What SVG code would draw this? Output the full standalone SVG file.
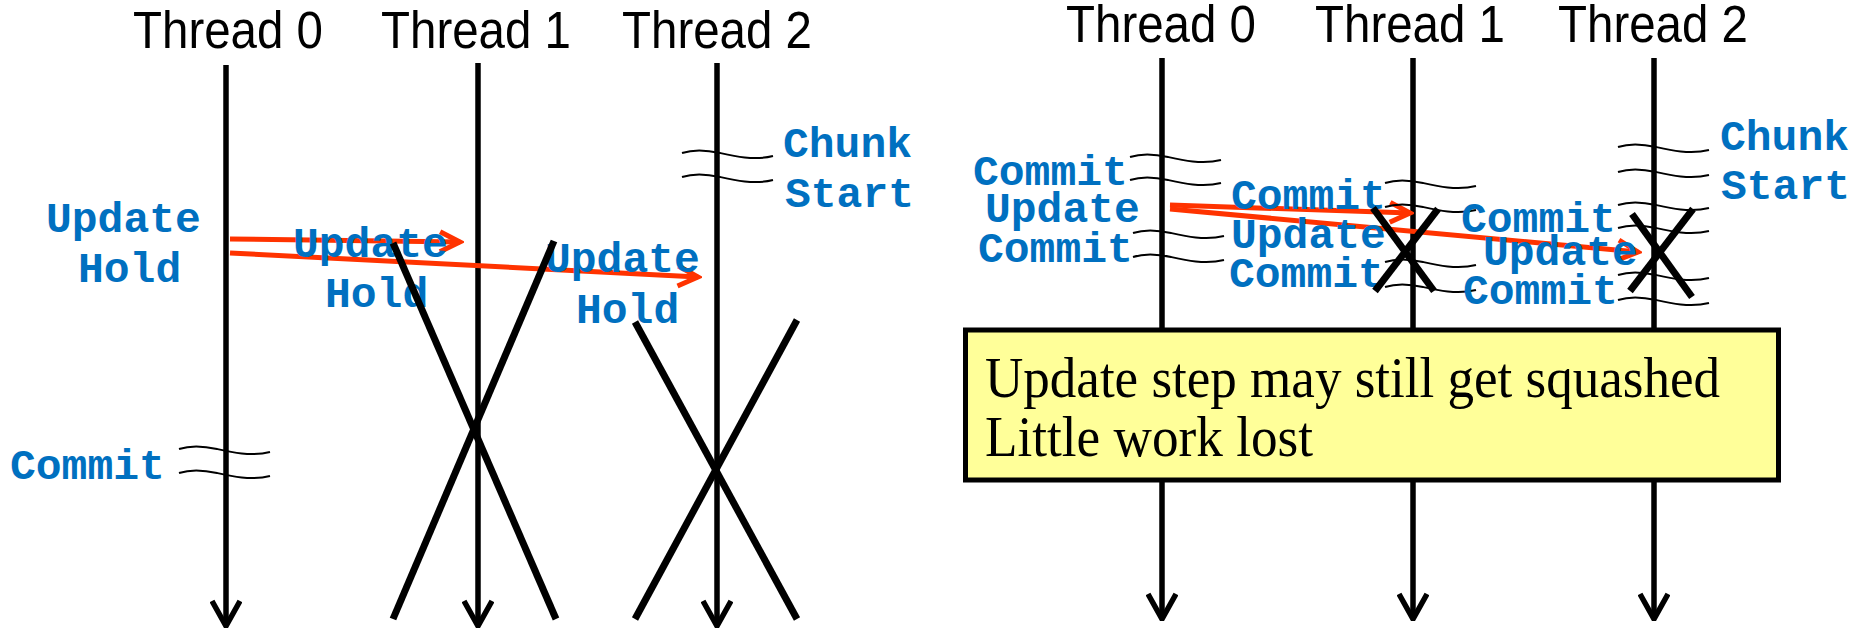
<svg xmlns="http://www.w3.org/2000/svg" width="1868" height="630" viewBox="0 0 1868 630">
  <style>
    .thr{stroke:#000;stroke-width:5.5;fill:none}
    .brk{stroke:#000;stroke-width:2;fill:none}
    .red{stroke:#FF3300;stroke-width:5;fill:none}
    .x{stroke:#000;stroke-width:7;fill:none}
    .title{font-family:"Liberation Sans",Arial,sans-serif;font-size:51px;fill:#000}
    .lbl{font-family:"Liberation Mono","Courier New",monospace;font-weight:bold;font-size:43px;fill:#0070C0}
    .note{font-family:"Liberation Serif","Times New Roman",serif;font-size:57px;fill:#000}
  </style>
  <defs>
    <marker id="down" viewBox="-30 -16 32 32" markerWidth="32" markerHeight="32" refX="0" refY="0" markerUnits="userSpaceOnUse" orient="auto">
      <path d="M-25,-14 L0,0 L-25,14" fill="none" stroke="#000" stroke-width="5.5"/>
    </marker>
    <marker id="redhead" viewBox="-26 -14 30 28" markerWidth="30" markerHeight="28" refX="0" refY="0" markerUnits="userSpaceOnUse" orient="auto">
      <path d="M-20,-10 L0,0 L-20,10" fill="none" stroke="#FF3300" stroke-width="5"/>
    </marker>
    <!-- break mark drawn across a thread line -->
    <path id="wave" class="brk" d="M0,0 C12,-4 25,-3 38,0 S 72,8 91,3"/>
  </defs>

  <!-- ===== Left scenario ===== -->
  <g id="left-titles">
    <text class="title" x="228" y="48" text-anchor="middle" textLength="190" lengthAdjust="spacingAndGlyphs">Thread 0</text>
    <text class="title" x="476" y="48" text-anchor="middle" textLength="190" lengthAdjust="spacingAndGlyphs">Thread 1</text>
    <text class="title" x="717" y="48" text-anchor="middle" textLength="190" lengthAdjust="spacingAndGlyphs">Thread 2</text>
  </g>

  <g id="connectors">
    <!-- left thread timelines -->
    <line class="thr" x1="226" y1="65" x2="226" y2="626" marker-end="url(#down)"/>
    <line class="thr" x1="478" y1="63" x2="478" y2="626" marker-end="url(#down)"/>
    <line class="thr" x1="717" y1="63" x2="717" y2="626" marker-end="url(#down)"/>
    <!-- right thread timelines -->
    <line class="thr" x1="1162" y1="58" x2="1162" y2="619" marker-end="url(#down)"/>
    <line class="thr" x1="1413" y1="58" x2="1413" y2="619" marker-end="url(#down)"/>
    <line class="thr" x1="1654" y1="58" x2="1654" y2="619" marker-end="url(#down)"/>

    <!-- left forwarding arrows -->
    <line class="red" x1="230" y1="239" x2="460" y2="242" marker-end="url(#redhead)"/>
    <line class="red" x1="230" y1="253" x2="698" y2="277" marker-end="url(#redhead)"/>
    <!-- right forwarding arrows -->
    <line class="red" x1="1170" y1="205" x2="1410" y2="213" marker-end="url(#redhead)"/>
    <line class="red" x1="1170" y1="209" x2="1638" y2="252" marker-end="url(#redhead)"/>
  </g>

  <g id="left-breaks">
    <use href="#wave" x="682" y="153"/>
    <use href="#wave" x="682" y="177"/>
    <use href="#wave" x="179" y="449"/>
    <use href="#wave" x="179" y="473"/>
  </g>

  <g id="left-thread0-labels">
    <text class="lbl" x="46" y="232">Update</text>
    <text class="lbl" x="78" y="282">Hold</text>
    <text class="lbl" x="10" y="479">Commit</text>
  </g>
  <g id="left-thread1-labels">
    <text class="lbl" x="293" y="257">Update</text>
    <text class="lbl" x="325" y="307">Hold</text>
  </g>
  <g id="left-thread2-labels">
    <text class="lbl" x="545" y="272">Update</text>
    <text class="lbl" x="576" y="323">Hold</text>
    <text class="lbl" x="783" y="157">Chunk</text>
    <text class="lbl" x="785" y="207">Start</text>
  </g>

  <g id="left-squash">
    <line class="x" x1="393" y1="243" x2="556" y2="619"/>
    <line class="x" x1="554" y1="241" x2="393" y2="619"/>
    <line class="x" x1="635" y1="322" x2="797" y2="619"/>
    <line class="x" x1="797" y1="320" x2="635" y2="619"/>
  </g>

  <!-- ===== Right scenario ===== -->
  <g id="right-titles">
    <text class="title" x="1161" y="42" text-anchor="middle" textLength="190" lengthAdjust="spacingAndGlyphs">Thread 0</text>
    <text class="title" x="1410" y="42" text-anchor="middle" textLength="190" lengthAdjust="spacingAndGlyphs">Thread 1</text>
    <text class="title" x="1653" y="42" text-anchor="middle" textLength="190" lengthAdjust="spacingAndGlyphs">Thread 2</text>
  </g>

  <g id="right-breaks">
    <use href="#wave" x="1130" y="157"/>
    <use href="#wave" x="1130" y="180"/>
    <use href="#wave" x="1133" y="233"/>
    <use href="#wave" x="1133" y="257"/>
    <use href="#wave" x="1385" y="183"/>
    <use href="#wave" x="1385" y="207"/>
    <use href="#wave" x="1385" y="262"/>
    <use href="#wave" x="1385" y="287"/>
    <use href="#wave" x="1618" y="147"/>
    <use href="#wave" x="1618" y="172"/>
    <use href="#wave" x="1618" y="205"/>
    <use href="#wave" x="1618" y="228"/>
    <use href="#wave" x="1618" y="275"/>
    <use href="#wave" x="1618" y="300"/>
  </g>

  <g id="right-thread0-labels">
    <text class="lbl" x="973" y="185">Commit</text>
    <text class="lbl" x="985" y="222">Update</text>
    <text class="lbl" x="978" y="262">Commit</text>
  </g>
  <g id="right-thread1-labels">
    <text class="lbl" x="1231" y="209">Commit</text>
    <text class="lbl" x="1231" y="248">Update</text>
    <text class="lbl" x="1229" y="287">Commit</text>
  </g>
  <g id="right-thread2-labels">
    <text class="lbl" x="1461" y="232">Commit</text>
    <text class="lbl" x="1483" y="265">Update</text>
    <text class="lbl" x="1463" y="304">Commit</text>
    <text class="lbl" x="1720" y="150">Chunk</text>
    <text class="lbl" x="1721" y="199">Start</text>
  </g>

  <g id="right-squash">
    <line class="x" x1="1373" y1="208" x2="1434" y2="291"/>
    <line class="x" x1="1438" y1="209" x2="1375" y2="291"/>
    <line class="x" x1="1632" y1="214" x2="1692" y2="297"/>
    <line class="x" x1="1693" y1="209" x2="1630" y2="291"/>
  </g>

  <g id="note">
    <rect x="965.5" y="330" width="813" height="150" fill="#FFFF99" stroke="#000" stroke-width="5"/>
    <text class="note" x="985" y="397" textLength="735" lengthAdjust="spacingAndGlyphs">Update step may still get squashed</text>
    <text class="note" x="985" y="456" textLength="328" lengthAdjust="spacingAndGlyphs">Little work lost</text>
  </g>
</svg>
